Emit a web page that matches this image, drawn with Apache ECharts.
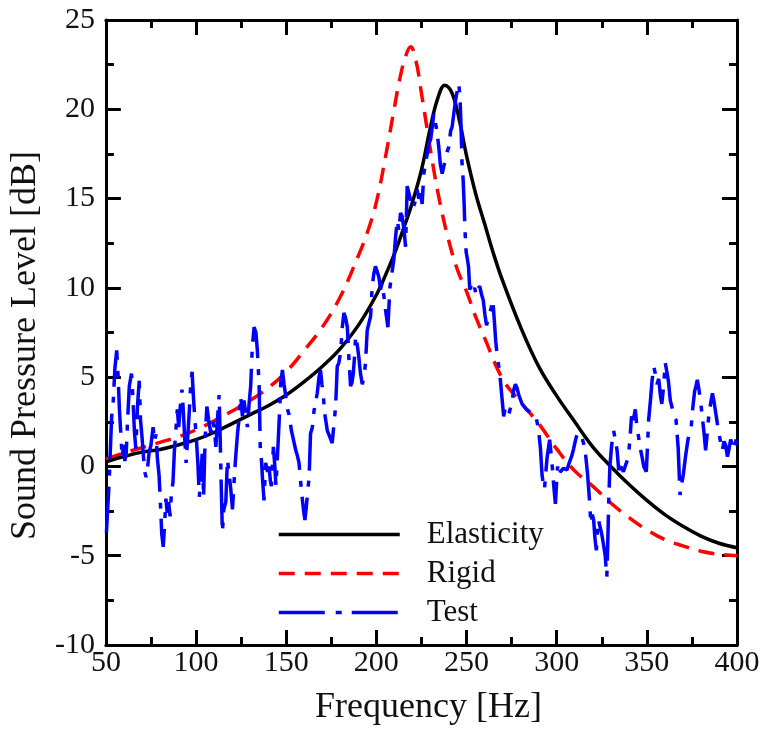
<!DOCTYPE html>
<html>
<head>
<meta charset="utf-8">
<script src="https://cdn.jsdelivr.net/npm/echarts@6/dist/echarts.min.js"></script>
<style>
  html, body { margin: 0; padding: 0; background: #fff; }
  #chart { width: 764px; height: 735px; }
</style>
</head>
<body>
<div id="chart"></div>
<script>
// Frequency axis ticks and SPL axis ticks
const xTicks = [50, 100, 150, 200, 250, 300, 350, 400];
const yTicks = [-10, -5, 0, 5, 10, 15, 20, 25];

// Elastic-wall model
const elasticHz = [50,60,70,80,90,100,110,120,130,140,150,160,170,180,190,200,205,210,215,220,225,230,234,238,242,246,250,255,260,265,270,280,290,300,310,320,330,340,350,360,370,380,390,400];
const elasticDb = [0.25,0.55,0.8,0.95,1.2,1.5,1.9,2.4,2.9,3.4,4.0,4.75,5.6,6.6,7.9,9.6,10.7,11.9,13.3,14.8,16.6,19.0,20.6,21.35,20.9,19.4,17.4,15.3,13.6,11.9,10.4,7.8,5.6,3.95,2.5,1.1,0.0,-1.0,-1.9,-2.7,-3.35,-3.9,-4.3,-4.55];

// Rigid-wall model
const rigidHz = [50,60,70,80,90,100,110,120,130,140,150,160,170,180,190,195,200,205,210,213,216,219,222,225,228,231,235,240,245,250,255,260,270,280,290,300,310,320,330,340,350,360,370,380,390,400];
const rigidDb = [0.4,0.75,1.05,1.35,1.65,2.05,2.55,3.1,3.7,4.4,5.3,6.5,7.8,9.5,11.8,13.1,14.8,17.3,20.1,21.7,22.9,23.5,22.7,20.9,19.0,17.1,14.9,12.7,11.0,9.8,8.4,7.2,4.9,3.6,2.4,0.98,-0.25,-1.1,-2.05,-2.85,-3.55,-4.1,-4.45,-4.75,-4.92,-5.0];

// Measured spectrum
const testHz = [50.3,51.2,51.8,52.5,53.2,54.0,55.0,56.0,56.8,57.5,58.3,59.0,59.8,60.5,61.3,62.0,63.0,64.2,65.0,65.8,66.6,67.6,68.5,69.2,70.0,70.8,71.5,72.3,73.2,74.0,75.0,76.2,77.0,77.8,78.6,79.5,80.2,81.0,81.8,82.6,83.3,84.0,84.8,85.6,86.4,87.2,88.0,88.8,89.6,90.4,91.2,92.2,93.0,93.8,94.5,95.3,96.2,97.0,97.8,98.6,99.4,100.2,101.0,101.8,102.6,103.4,104.2,105.0,106.0,107.0,108.2,109.2,110.0,111.0,112.0,112.8,113.4,114.0,114.6,115.4,116.5,117.4,118.3,119.2,120.2,121.0,122.0,123.0,124.0,124.8,125.7,126.6,127.5,128.5,129.4,130.3,131.2,132.2,133.2,134.0,135.0,135.6,136.3,136.9,137.7,138.6,139.6,140.5,141.2,141.8,142.9,143.7,144.3,145.5,146.3,147.0,147.9,148.8,149.8,150.7,151.6,152.9,154.0,155.3,156.2,157.1,158.0,159.0,159.8,160.4,161.2,162.0,162.7,163.5,164.5,165.4,166.3,167.2,168.2,169.0,169.8,170.5,171.3,172.2,172.8,174.0,175.5,176.5,177.4,178.3,179.2,180.2,181.1,182.0,183.0,183.9,184.8,185.7,186.5,187.2,188.0,188.5,189.4,190.3,191.2,192.2,193.1,194.0,194.9,195.8,196.8,197.7,198.6,199.5,200.5,201.4,202.3,203.2,204.1,204.9,205.6,206.4,207.5,208.6,209.7,210.6,211.6,212.5,213.4,214.3,215.3,216.2,217.1,218.0,219.0,220.0,220.8,221.7,222.6,223.5,224.5,225.4,226.3,227.2,228.2,229.2,230.1,231.0,231.9,232.6,233.2,234.0,234.6,235.5,236.5,237.4,238.3,239.2,240.2,241.2,242.0,243.0,243.9,244.8,245.7,246.4,246.9,247.5,248.1,248.6,249.1,249.8,250.5,251.1,251.8,252.7,253.6,254.5,255.4,256.3,257.3,258.4,259.3,260.2,261.1,262.0,262.9,263.7,264.6,265.4,266.2,267.0,267.9,268.8,269.7,270.6,271.5,272.5,273.4,274.3,275.2,276.2,277.1,278.0,279.0,279.9,280.8,281.7,283.1,284.5,286.3,288.2,289.1,290.0,291.0,291.9,292.6,293.2,294.0,294.7,295.4,296.1,296.8,297.4,298.3,299.3,300.0,300.5,301.2,302.0,303.8,305.7,306.6,307.5,308.4,309.4,310.5,311.6,312.8,314.0,314.9,315.8,316.5,317.1,317.7,318.2,318.6,319.0,319.8,320.5,321.2,322.0,322.6,323.2,324.1,325.0,326.0,326.9,327.8,328.4,328.8,329.5,330.5,331.6,332.5,333.5,334.4,335.5,337.0,338.3,339.7,340.6,341.5,342.5,343.6,344.5,345.5,346.4,347.4,348.3,349.7,350.4,351.0,352.0,352.9,353.8,354.7,355.6,356.6,357.5,358.3,359.3,360.2,361.1,362.0,363.0,364.0,365.0,366.2,367.4,368.4,369.3,370.3,371.5,372.8,373.7,374.6,375.5,376.5,377.2,378.0,378.9,379.8,380.7,381.6,382.6,383.5,384.5,385.5,386.4,387.3,388.2,389.1,390.0,391.0,391.9,392.8,393.7,394.7,395.6,396.5,397.5,398.4,399.3,400.0];
const testDb = [-3.7,-2.0,-0.9,1.0,2.8,3.5,5.5,6.5,5.0,3.2,1.8,0.5,1.2,0.3,0.8,2.5,4.5,5.2,3.8,2.0,1.0,3.5,4.8,2.6,1.7,0.6,-0.3,-0.6,0.0,0.8,1.2,2.2,1.4,1.8,0.4,-0.5,-2.0,-3.8,-4.5,-3.2,-1.8,-2.6,-2.0,-2.8,-1.4,-0.9,0.9,2.0,3.2,2.2,3.3,4.3,3.0,1.4,0.2,1.5,3.0,4.5,5.3,3.8,2.6,1.5,0.2,-1.7,-0.8,0.7,-1.7,1.5,3.35,2.6,1.85,2.6,2.2,1.1,2.8,4.0,1.5,-1.2,-3.7,-2.4,-2.0,0.4,-0.4,-1.2,-2.4,-1.0,0.55,1.85,2.8,3.9,2.8,3.7,3.0,2.2,3.5,4.5,6.7,7.8,7.5,6.5,4.5,1.1,0.3,-0.75,-1.9,0.2,-0.3,0.0,-0.8,-1.1,1.1,0.0,-1.1,1.3,3.0,4.7,5.4,4.6,3.9,3.2,2.9,2.0,1.5,0.9,0.6,0.2,-0.85,-1.9,-2.6,-3.0,-2.2,-1.3,-0.6,1.85,2.2,3.1,3.6,4.1,5.0,5.4,4.6,4.1,3.0,2.4,2.0,1.7,1.3,2.4,3.35,5.6,5.8,6.4,7.8,8.6,8.3,7.8,6.0,4.5,4.7,5.2,6.3,7.3,6.8,6.1,5.2,4.6,5.0,5.8,7.6,8.0,8.4,10.1,10.8,11.2,10.9,10.6,9.9,10.3,9.6,8.9,8.4,7.8,10.0,10.8,11.6,12.8,13.8,13.2,14.2,14.0,13.3,12.3,15.7,15.8,14.9,15.1,14.6,14.9,15.5,15.0,15.3,14.7,16.4,16.9,17.5,18.1,18.3,19.0,19.8,19.3,19.0,18.4,17.9,16.9,16.4,16.8,17.2,17.6,17.9,18.8,19.0,19.8,20.5,21.0,21.45,20.6,19.2,17.0,16.1,14.9,13.3,12.0,11.6,11.2,9.9,10.2,9.8,10.0,9.6,9.9,10.1,9.6,9.3,8.5,7.9,7.8,8.6,8.9,9.3,8.2,7.0,6.2,5.6,4.8,3.8,2.8,3.3,3.2,2.9,2.9,3.6,4.3,4.6,4.4,4.0,3.9,3.5,3.5,3.2,3.1,3.0,2.9,2.5,2.0,1.0,-0.5,-1.0,-1.3,-0.3,0.5,1.0,1.5,0.8,0.2,-1.0,-2.1,-0.8,0.0,-0.5,-0.3,-0.1,-0.2,0.1,0.2,0.6,1.0,1.5,1.9,1.8,1.6,1.3,0.9,0.2,-0.4,-1.2,-1.9,-2.6,-3.2,-2.7,-3.0,-4.0,-4.7,-3.6,-3.0,-3.4,-3.8,-4.4,-5.0,-6.2,-4.0,-2.2,0.0,1.2,2.0,1.5,0.9,-0.2,0.0,-0.3,0.1,0.5,1.5,2.8,2.6,3.2,2.2,1.6,1.0,0.5,0.0,-0.3,1.2,2.6,3.7,4.8,5.6,5.2,4.6,4.9,4.0,3.5,4.5,5.8,5.3,4.75,3.7,3.3,2.8,2.6,1.0,-1.6,-1.0,-0.4,0.6,1.5,1.9,2.2,3.3,4.2,4.5,4.85,4.3,3.7,2.8,2.0,0.9,1.9,3.0,3.6,4.1,3.6,3.0,2.4,1.85,1.3,0.9,1.4,1.2,0.55,1.0,1.5,1.2,0.9,1.4,1.8];

const seriesNames = ['Elasticity', 'Rigid', 'Test'];

const zip = (xs, ys) => xs.map((x, i) => [x, ys[i]]);

const FONT = '"Liberation Serif", "Times New Roman", serif';
const xMin = xTicks[0], xMax = xTicks[xTicks.length - 1];
const yMin = yTicks[0], yMax = yTicks[yTicks.length - 1];
const xStep = xTicks[1] - xTicks[0];
const yStep = yTicks[1] - yTicks[0];

// One side of the boxed frame: inward major + minor ticks on every side
function frameAxis(position, showLabels, isX) {
  return {
    type: 'value',
    position: position,
    min: isX ? xMin : yMin,
    max: isX ? xMax : yMax,
    interval: isX ? xStep : yStep,
    axisLine: { show: true, onZero: false, lineStyle: { color: '#000', width: 3 } },
    axisTick: { show: true, inside: true, length: 15, lineStyle: { color: '#000', width: 3 } },
    minorTick: { show: true, splitNumber: 2, length: 8, lineStyle: { color: '#000', width: 3 } },
    axisLabel: {
      show: showLabels,
      color: '#111',
      fontFamily: FONT,
      fontSize: 30,
      margin: isX ? 3 : 11
    },
    splitLine: { show: false },
    minorSplitLine: { show: false }
  };
}

const xBottom = Object.assign(frameAxis('bottom', true, true), {
  name: 'Frequency [Hz]',
  nameLocation: 'middle',
  nameGap: 45,
  nameTextStyle: { color: '#111', fontFamily: FONT, fontSize: 36, padding: [0, 0, 0, 14] }
});
const xTop = frameAxis('top', false, true);
const yLeft = Object.assign(frameAxis('left', true, false), {
  name: 'Sound Pressure Level [dB]',
  nameLocation: 'middle',
  nameGap: 55,
  nameTextStyle: { color: '#111', fontFamily: FONT, fontSize: 36, padding: [0, 26, 0, 0] }
});
const yRight = frameAxis('right', false, false);

const chart = echarts.init(document.getElementById('chart'), null, { renderer: 'canvas' });
chart.setOption({
  backgroundColor: '#fff',
  animation: false,
  grid: { left: 105, right: 27, top: 20, bottom: 90, containLabel: false },
  xAxis: [xBottom, xTop],
  yAxis: [yLeft, yRight],
  legend: {
    data: seriesNames,
    orient: 'vertical',
    left: 277,
    top: 519,
    padding: 0,
    itemWidth: 121,
    itemHeight: 14,
    itemGap: 8,
    itemStyle: { opacity: 0 },
    lineStyle: { width: 3.5 },
    textStyle: { color: '#111', fontFamily: FONT, fontSize: 31, padding: [0, 0, 0, 22] }
  },
  series: [
    {
      name: seriesNames[0],
      type: 'line',
      xAxisIndex: 0, yAxisIndex: 0,
      data: zip(elasticHz, elasticDb),
      smooth: 0.4,
      symbol: 'none',
      lineStyle: { color: '#000', width: 3.5, type: 'solid' },
      itemStyle: { color: '#000' },
      z: 3
    },
    {
      name: seriesNames[1],
      type: 'line',
      xAxisIndex: 0, yAxisIndex: 0,
      data: zip(rigidHz, rigidDb),
      smooth: 0.4,
      symbol: 'none',
      lineStyle: { color: '#ff0000', width: 3.5, type: [16, 10] },
      itemStyle: { color: '#ff0000' },
      z: 2
    },
    {
      name: seriesNames[2],
      type: 'line',
      xAxisIndex: 0, yAxisIndex: 0,
      data: zip(testHz, testDb),
      symbol: 'none',
      lineStyle: { color: '#0000ff', width: 3.5, type: [46, 11, 6, 10] },
      itemStyle: { color: '#0000ff' },
      z: 4
    }
  ]
});
</script>
</body>
</html>
